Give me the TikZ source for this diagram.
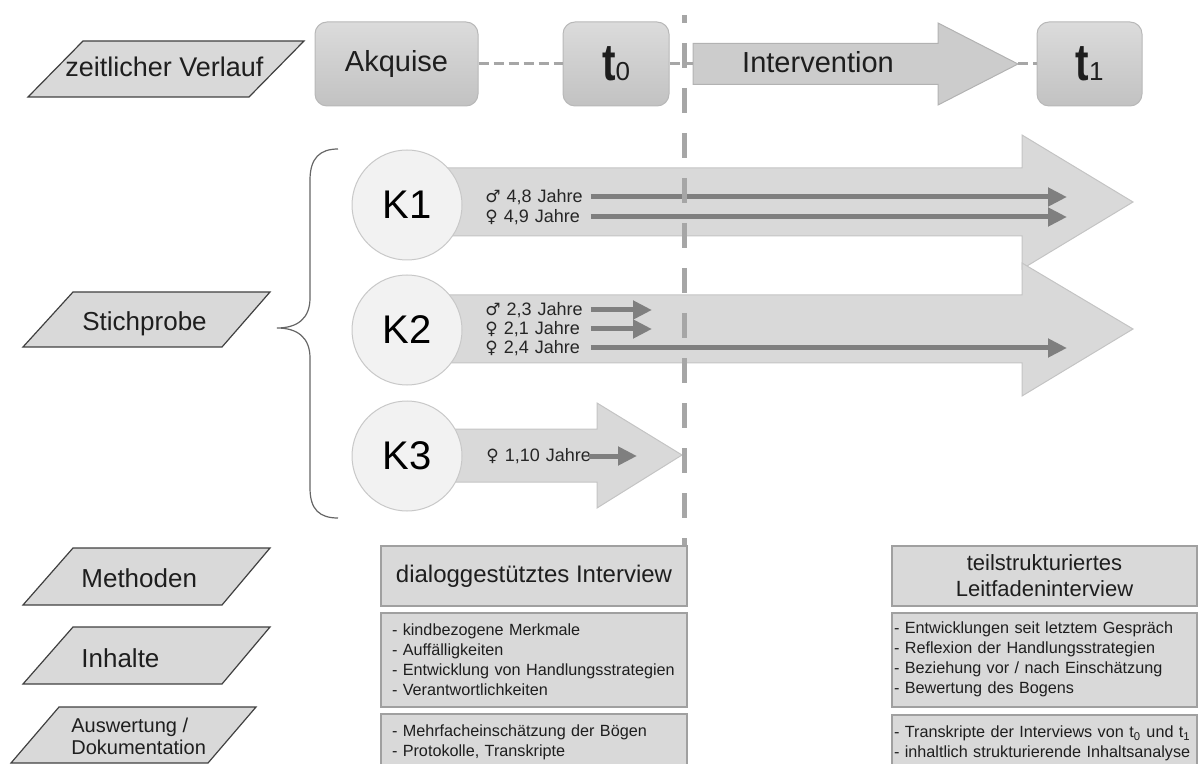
\documentclass[tikz,border=0pt]{standalone}
\usepackage{fontspec}
\setmainfont{Liberation Sans}
\newfontfamily\symbolschrift{DejaVu Sans}
\usetikzlibrary{arrows.meta,positioning,shapes.geometric}

\definecolor{FlaecheGrau}{RGB}{217,217,217}
\definecolor{BandRand}{RGB}{196,196,196}
\definecolor{StrichGrau}{RGB}{166,166,166}
\definecolor{PfeilGrau}{RGB}{127,127,127}
\definecolor{KreisGrau}{RGB}{242,242,242}
\definecolor{KreisRand}{RGB}{200,200,200}
\definecolor{KastenRand}{RGB}{160,160,160}
\definecolor{ParaRand}{RGB}{64,64,64}
\definecolor{TextDunkel}{RGB}{30,30,30}

\newcommand{\mann}{{\symbolschrift\fontsize{8.5}{10}\selectfont ♂}}
\newcommand{\frau}{{\symbolschrift\fontsize{8.5}{10}\selectfont ♀}}
\newcommand{\zeitpunkt}[1]{\scalebox{0.78}[1]{\fontsize{26}{26}\selectfont\bfseries t}{\fontsize{13}{13}\selectfont #1}}

\tikzset{
  para/.style={draw=ParaRand,fill=FlaecheGrau,line width=0.6pt},
  paratext/.style={anchor=base west,inner sep=0pt,text=TextDunkel,
                   font=\fontsize{13}{15}\selectfont},
  zeitbox/.style={rectangle,rounded corners=6pt,draw=black!28,
                  top color=black!14,bottom color=black!24,line width=0.5pt,
                  minimum height=42pt,inner sep=0pt,text=TextDunkel,
                  font=\fontsize{14.5}{16}\selectfont},
  band/.style={draw=BandRand,fill=FlaecheGrau,line width=0.5pt},
  kreis/.style={circle,draw=KreisRand,fill=KreisGrau,line width=0.5pt,
                minimum size=55pt,inner sep=0pt,text=black,
                font=\fontsize{20}{22}\selectfont},
  alter/.style={anchor=west,inner sep=0pt,text width=52.5pt,align=left,
                text=black!85,font=\fontsize{9}{10}\selectfont},
  lauf/.style={-{Triangle[length=9.5pt,width=9pt]},PfeilGrau,line width=2.5pt},
  zeitstrich/.style={StrichGrau,line width=1.5pt,dash pattern=on 5pt off 2.5pt},
  trenner/.style={StrichGrau,line width=2.5pt,dash pattern=on 12.5pt off 10pt,
                  dash phase=8.5pt},
  klammer/.style={draw=black!60,line width=0.6pt},
  kopf/.style={rectangle,draw=KastenRand,fill=FlaecheGrau,line width=0.9pt,
               minimum width=153pt,minimum height=30pt,align=center,
               text=TextDunkel,font=\fontsize{12}{13}\selectfont},
  inhalt/.style={rectangle,draw=KastenRand,fill=FlaecheGrau,line width=0.9pt,
                 minimum height=47pt,inner xsep=5.5pt,text width=142pt,align=left,
                 text=TextDunkel,font=\fontsize{8.1}{10}\selectfont},
}

\begin{document}
\begin{tikzpicture}[x=0.5pt,y=-0.5pt]
  \useasboundingbox (0,0) rectangle (1198,764);

  % Beschriftung links
  \draw[para] (83,41) -- (304,41) -- (249,97) -- (28,97) -- cycle;
  \node[paratext,font=\fontsize{13.5}{15}\selectfont] (lzeit) at (65,77) {zeitlicher Verlauf};
  \draw[para] (73,292) -- (270,292) -- (222,347) -- (23,347) -- cycle;
  \node[paratext] (lstich) at (82,331) {Stichprobe};
  \draw[para] (73,548) -- (270,548) -- (222,605) -- (23,605) -- cycle;
  \node[paratext] (lmeth) at (81,587) {Methoden};
  \draw[para] (73,627) -- (270,627) -- (222,684) -- (23,684) -- cycle;
  \node[paratext] (linh) at (81,667) {Inhalte};
  \draw[para] (59,707) -- (256,707) -- (208,763) -- (11,763) -- cycle;
  \node[paratext,anchor=west,align=left,font=\fontsize{10}{11}\selectfont]
       (lausw) at (71,736) {Auswertung /\\Dokumentation};

  % zeitlicher Verlauf
  \node[zeitbox,minimum width=81.5pt] (akq) at (396.5,64) {Akquise};
  \node[zeitbox,minimum width=53pt] (tnull) at (616,64) {\zeitpunkt{0}};
  \node[zeitbox,minimum width=52.5pt] (teins) at (1089.5,64) {\zeitpunkt{1}};

  \draw[band,fill=black!20,draw=black!30] (693,43.5) -- (938,43.5) -- (938,23)
       -- (1018,64) -- (938,105) -- (938,84.5) -- (693,84.5) -- cycle;
  \node[text=TextDunkel,font=\fontsize{14.5}{16}\selectfont] (interv) at (818,62) {Intervention};
  \coordinate (ivL) at (693,64);
  \coordinate (ivTip) at (1018,64);

  \draw[zeitstrich] (akq) -- (tnull);
  \draw[zeitstrich] (tnull) -- (ivL);
  \draw[zeitstrich] (ivTip) -- (teins);

  % Stichprobe
  \draw[band] (407,168) -- (1022,168) -- (1022,135) -- (1133,202) -- (1022,269)
       -- (1022,236) -- (407,236) -- cycle;
  \draw[band] (407,295) -- (1022,295) -- (1022,263) -- (1133,329) -- (1022,396)
       -- (1022,363) -- (407,363) -- cycle;
  \draw[band] (407,429) -- (597,429) -- (597,403) -- (682,455) -- (597,508)
       -- (597,482) -- (407,482) -- cycle;

  \node[kreis] (k1) at (407,205) {K1};
  \node[kreis] (k2) at (407,330) {K2};
  \node[kreis] (k3) at (407,456) {K3};

  \node[alter] (k1m) at (485,197) {\mbox{\mann{} 4,8 Jahre}};
  \node[alter] (k1w) at (485,217) {\mbox{\frau{} 4,9 Jahre}};
  \node[alter] (k2m) at (485,310) {\mbox{\mann{} 2,3 Jahre}};
  \node[alter] (k2w) at (485,329) {\mbox{\frau{} 2,1 Jahre}};
  \node[alter] (k2v) at (485,348) {\mbox{\frau{} 2,4 Jahre}};
  \node[alter,text width=51pt] (k3w) at (486,456) {\mbox{\frau{} 1,10 Jahre}};

  \coordinate (k1mEnde) at (1067,197);
  \coordinate (k1wEnde) at (1067,217);
  \coordinate (k2mEnde) at (652,310);
  \coordinate (k2wEnde) at (652,329);
  \coordinate (k2vEnde) at (1067,348);
  \coordinate (k3wEnde) at (637,456);

  \draw[lauf] (k1m) -- (k1mEnde);
  \draw[lauf] (k1w) -- (k1wEnde);
  \draw[lauf] (k2m) -- (k2mEnde);
  \draw[lauf] (k2w) -- (k2wEnde);
  \draw[lauf] (k2v) -- (k2vEnde);
  \draw[lauf] (k3w) -- (k3wEnde);

  \draw[klammer] (338,149) .. controls (320,149) and (310,158) .. (310,180)
       -- (310,298) .. controls (310,318) and (298,328) .. (277,328)
       .. controls (298,328) and (310,338) .. (310,358)
       -- (310,488) .. controls (310,510) and (320,518) .. (338,518);

  % Methoden, Inhalte, Auswertung
  \node[kopf] (mlinks) at (534,576) {dialoggestütztes Interview};
  \node[inhalt,below=2.5pt of mlinks] (ilinks)
       {- kindbezogene Merkmale\\- Auffälligkeiten\\- Entwicklung von Handlungsstrategien\\- Verantwortlichkeiten};
  \node[inhalt,minimum height=29pt,below=2.5pt of ilinks] (alinks)
       {- Mehrfacheinschätzung der Bögen\\- Protokolle, Transkripte};

  \node[kopf,minimum width=152.5pt,font=\fontsize{11}{13}\selectfont] (mrechts)
       at (1044.5,576) {teilstrukturiertes\\Leitfadeninterview};
  \node[inhalt,inner xsep=1pt,text width=150.5pt,below=2.5pt of mrechts] (irechts)
       {- Entwicklungen seit letztem Gespräch\\- Reflexion der Handlungsstrategien\\- Beziehung vor / nach Einschätzung\\- Bewertung des Bogens};
  \node[inhalt,inner xsep=1pt,text width=150.5pt,minimum height=29pt,below=3pt of irechts] (arechts)
       {- Transkripte der Interviews von t\textsubscript{0} und t\textsubscript{1}\\- inhaltlich strukturierende Inhaltsanalyse};

  % Trennlinie t0
  \coordinate (trennOben) at (684,15);
  \draw[trenner] (trennOben) -- (trennOben |- mlinks.north);
\end{tikzpicture}
\end{document}
